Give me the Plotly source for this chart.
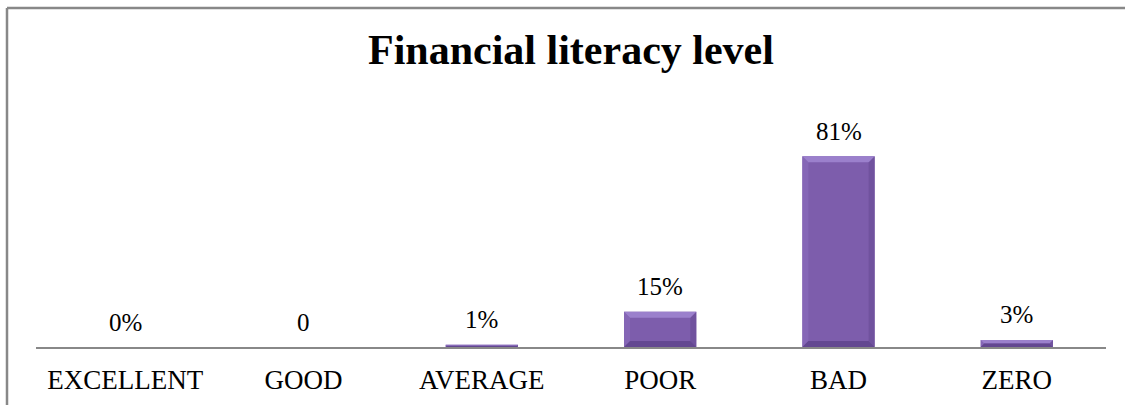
import plotly.graph_objects as go

# Chart data
categories = ["EXCELLENT", "GOOD", "AVERAGE", "POOR", "BAD", "ZERO"]
values = [0, 0, 1, 15, 81, 3]
value_labels = ["0%", "0", "1%", "15%", "81%", "3%"]

FONT = "Liberation Serif, Times New Roman, serif"
W, H = 1125, 405
L, R, T, B = 36, 19, 135, 58
Y_MAX = 90
BAR_W = 0.405

FACE = "#7d5dac"
TOP = "#9b80cc"
LEFT = "#8566b6"
RIGHT = "#70529e"
BOTTOM = "#634791"

xs = list(range(len(categories)))

fig = go.Figure()
fig.add_trace(go.Bar(
    x=xs, y=values, width=BAR_W,
    marker=dict(color=FACE, line=dict(width=0)),
    hoverinfo="skip",
))

# bevel facets around each bar, sized in pixels and converted to data units
px_per_x = (W - L - R) / 6.0
px_per_y = (H - T - B) / Y_MAX
dx = 6 / px_per_x
dy_full = 6 / px_per_y
shapes = []
for x, v in zip(xs, values):
    if v <= 0:
        continue
    x0, x1 = x - BAR_W / 2, x + BAR_W / 2
    dy = min(dy_full, v / 2)
    ddx = min(dx, dy * px_per_y / px_per_x)
    facets = [
        (LEFT, f"M {x0},0 L {x0},{v} L {x0+ddx},{v-dy} L {x0+ddx},{dy} Z"),
        (RIGHT, f"M {x1},0 L {x1},{v} L {x1-ddx},{v-dy} L {x1-ddx},{dy} Z"),
        (TOP, f"M {x0},{v} L {x1},{v} L {x1-ddx},{v-dy} L {x0+ddx},{v-dy} Z"),
        (BOTTOM, f"M {x0},0 L {x1},0 L {x1-ddx},{dy} L {x0+ddx},{dy} Z"),
    ]
    for col, p in facets:
        shapes.append(dict(type="path", path=p, xref="x", yref="y",
                           fillcolor=col, line=dict(width=0), layer="above"))

# chart frame (top and left edges)
shapes.append(dict(type="line", xref="paper", yref="paper",
                   x0=(7 - L) / (W - L - R), x1=(W + 5 - L) / (W - L - R),
                   y0=(H - B - 8) / (H - T - B), y1=(H - B - 8) / (H - T - B),
                   line=dict(color="#888888", width=2.5)))
shapes.append(dict(type="line", xref="paper", yref="paper",
                   x0=(7 - L) / (W - L - R), x1=(7 - L) / (W - L - R),
                   y0=-(B + 5) / (H - T - B), y1=(H - B - 8) / (H - T - B),
                   line=dict(color="#888888", width=2.5)))

annotations = []
for x, v, t in zip(xs, values, value_labels):
    annotations.append(dict(x=x, y=v, xref="x", yref="y", text=t,
                            showarrow=False, yanchor="middle", yshift=25,
                            font=dict(family=FONT, size=25, color="#000000")))

annotations.append(dict(x=0.5, y=(H - B - 50) / (H - T - B), xref="paper", yref="paper",
                        text="<b>Financial literacy level</b>",
                        showarrow=False, xanchor="center", yanchor="middle",
                        font=dict(family=FONT, size=42, color="#000000")))

fig.update_layout(
    width=W, height=H,
    margin=dict(l=L, r=R, t=T, b=B, autoexpand=False),
    paper_bgcolor="white", plot_bgcolor="white",
    showlegend=False,
    shapes=shapes,
    annotations=annotations,
    xaxis=dict(range=[-0.5, 5.5], tickvals=xs, ticktext=categories,
               showgrid=False, zeroline=False, showline=True,
               linecolor="#888888", linewidth=2, ticks="",
               ticklabelstandoff=8, automargin=False,
               tickfont=dict(family=FONT, size=27, color="#000000"),
               fixedrange=True),
    yaxis=dict(range=[0, Y_MAX], visible=False, fixedrange=True, automargin=False),
)

fig.write_html("out.html")
